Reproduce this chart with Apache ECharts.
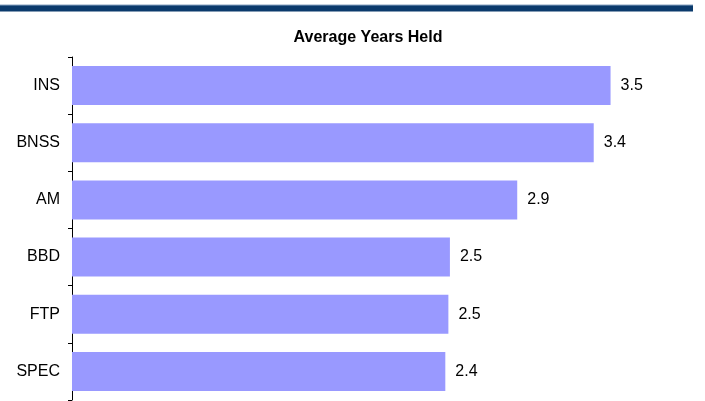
<!DOCTYPE html>
<html>
<head>
<meta charset="utf-8">
<script src="https://cdn.jsdelivr.net/npm/echarts@6/dist/echarts.min.js"></script>
<style>
  html, body { margin: 0; padding: 0; background: #ffffff; }
  #chart { width: 705px; height: 401px; }
</style>
</head>
<body>
<div id="chart"></div>
<script>
// Average holding period by category, in years
const categories = ['INS', 'BNSS', 'AM', 'BBD', 'FTP', 'SPEC'];
const yearsHeld = [3.52, 3.41, 2.91, 2.47, 2.46, 2.44];
const chartTitle = 'Average Years Held';

const FONT = 'Liberation Sans, Arial, sans-serif';
const chart = echarts.init(document.getElementById('chart'), null, { renderer: 'canvas' });

chart.setOption({
  animation: false,
  backgroundColor: '#ffffff',
  title: {
    text: chartTitle,
    left: 363,
    top: 25,
    textAlign: 'center',
    textStyle: {
      fontFamily: FONT,
      fontSize: 16,
      fontWeight: 'bold',
      color: '#000000'
    }
  },
  graphic: [
    {
      type: 'rect',
      shape: { x: 0, y: 5, width: 693, height: 6.5 },
      style: { fill: '#0b3a6c' }
    },
    {
      type: 'rect',
      shape: { x: 0, y: 4.5, width: 693, height: 1 },
      style: { fill: '#8aa3c2' }
    }
  ],
  grid: {
    left: 72,
    right: 21,
    top: 57,
    bottom: 1,
    containLabel: false
  },
  xAxis: {
    type: 'value',
    min: 0,
    max: 4,
    show: false
  },
  yAxis: {
    type: 'category',
    data: categories,
    inverse: true,
    axisLine: { show: true, lineStyle: { color: '#000000', width: 1 } },
    axisTick: { show: true, inside: false, length: 4, lineStyle: { color: '#000000' } },
    axisLabel: {
      margin: 12,
      fontFamily: FONT,
      fontSize: 16,
      color: '#000000'
    },
    splitLine: { show: false }
  },
  series: [
    {
      type: 'bar',
      data: yearsHeld,
      barWidth: 39,
      itemStyle: { color: '#9999ff' },
      label: {
        show: true,
        position: 'right',
        distance: 10,
        fontFamily: FONT,
        fontSize: 16,
        color: '#000000',
        formatter: (p) => p.value.toFixed(1)
      }
    }
  ]
});
</script>
</body>
</html>
